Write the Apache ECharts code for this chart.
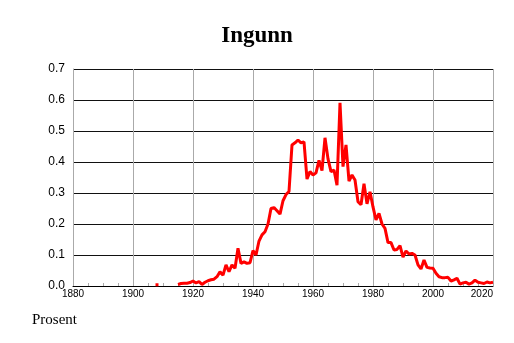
<!DOCTYPE html>
<html>
<head>
<meta charset="utf-8">
<script src="https://cdn.jsdelivr.net/npm/echarts@6/dist/echarts.min.js"></script>
<style>html,body{margin:0;padding:0;background:#fff;}#c{width:514px;height:343px;}</style>
</head>
<body>
<div id="c"></div>
<script>
const titleText = "Ingunn";
const yAxisName = "Prosent";
const startYear = 1908;
// share (%) per year from 1908 to 2020; null = no data
const values = [
  0.004, null, null, null, null, null, null,
  0.005, 0.008, 0.009, 0.009, 0.011, 0.016, 0.010, 0.014, 0.005, 0.012,
  0.017, 0.020, 0.022, 0.030, 0.046, 0.035, 0.068, 0.046, 0.068, 0.057,
  0.122, 0.073, 0.078, 0.073, 0.075, 0.114, 0.100, 0.145, 0.165, 0.175,
  0.200, 0.250, 0.253, 0.243, 0.232, 0.275, 0.295, 0.305, 0.455, 0.462,
  0.471, 0.462, 0.465, 0.345, 0.369, 0.358, 0.365, 0.405, 0.372, 0.478,
  0.410, 0.369, 0.374, 0.325, 0.591, 0.385, 0.455, 0.338, 0.358, 0.342,
  0.272, 0.262, 0.330, 0.265, 0.304, 0.255, 0.213, 0.234, 0.200, 0.186,
  0.140, 0.140, 0.116, 0.118, 0.130, 0.093, 0.113, 0.103, 0.105, 0.100,
  0.068, 0.055, 0.084, 0.060, 0.058, 0.057, 0.041, 0.030, 0.027, 0.027,
  0.028, 0.016, 0.020, 0.025, 0.006, 0.010, 0.012, 0.006, 0.010, 0.019,
  0.012, 0.010, 0.008, 0.013, 0.010, 0.012
];
const xMin = 1880, xMax = 2020, xStep = 20;
const yMin = 0, yMax = 0.7, yStep = 0.1;

const seriesData = values.map((v, i) => {
  const yr = startYear + i;
  const prev = i > 0 ? values[i - 1] : null;
  const next = i < values.length - 1 ? values[i + 1] : null;
  if (v !== null && prev === null && next === null) {
    return { value: [yr, v], symbol: 'rect', symbolSize: 3 };
  }
  return [yr, v];
});

const chart = echarts.init(document.getElementById('c'), null, { renderer: 'canvas' });
chart.setOption({
  animation: false,
  backgroundColor: '#ffffff',
  title: {
    text: titleText, left: 'center', top: 20,
    textStyle: { fontFamily: 'Liberation Serif', fontWeight: 'bold', fontSize: 23, color: '#000' }
  },
  graphic: [{
    type: 'text', left: 32, top: 313,
    style: { text: yAxisName, font: '15px "Liberation Serif"', fill: '#000' }
  }],
  grid: { left: 73, right: 21, top: 69, bottom: 57, containLabel: false },
  xAxis: {
    type: 'value', min: xMin, max: xMax, interval: xStep,
    axisLine: { show: true, lineStyle: { color: '#000', width: 1 } },
    axisTick: { show: true, inside: true, length: 3, lineStyle: { color: '#aaa' } },
    minorTick: { show: true, splitNumber: 4, length: 3, lineStyle: { color: '#aaa' } },
    axisLabel: {
      fontFamily: 'Liberation Sans', fontSize: 10, color: '#000', margin: 3,
      alignMaxLabel: 'right', formatter: v => String(v)
    },
    splitLine: { show: true, lineStyle: { color: '#aaa', width: 1 } }
  },
  yAxis: {
    type: 'value', min: yMin, max: yMax, interval: yStep,
    axisLine: { show: true, lineStyle: { color: '#aaa', width: 1 } },
    axisTick: { show: false },
    axisLabel: {
      fontFamily: 'Liberation Sans', fontSize: 12, color: '#000', margin: 8,
      formatter: v => v.toFixed(1)
    },
    splitLine: { show: true, lineStyle: { color: '#111', width: 1 } }
  },
  series: [{
    type: 'line', data: seriesData, symbol: 'none', showSymbol: true,
    connectNulls: false,
    lineStyle: { color: '#ff0000', width: 3 },
    itemStyle: { color: '#ff0000' }
  }]
});
</script>
</body>
</html>
